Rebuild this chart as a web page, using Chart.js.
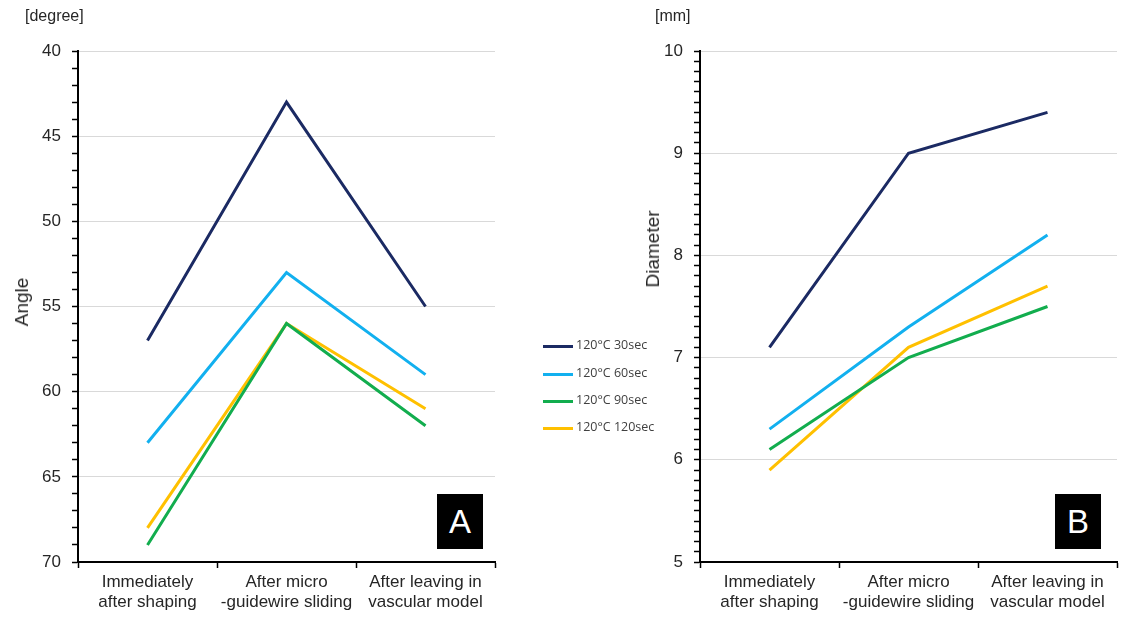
<!DOCTYPE html>
<html>
<head>
<meta charset="utf-8">
<script src="https://cdn.jsdelivr.net/npm/chart.js@4/dist/chart.umd.min.js"></script>
<style>
  body { margin: 0; background: #fff; font-family: "Liberation Sans", Arial, sans-serif; }
  #wrap { position: relative; width: 1133px; height: 620px; overflow: hidden; }
  .cv { position: absolute; top: 0; }
  .txt { position: absolute; color: #262626; white-space: nowrap; }
  .rot { position: absolute; transform: translate(-50%, -50%) rotate(-90deg); font-size: 19px; color: #262626; white-space: nowrap; }
  .panel { position: absolute; background: #000; color: #fff; font-size: 33px; text-align: center; width: 46px; height: 55px; line-height: 55px; top: 494px; }
  #legend { position: absolute; left: 543px; top: 0; font-family: "Open Sans", "Noto Sans", sans-serif; font-size: 12.5px; color: #404040; }
  .lg { position: absolute; left: 0; height: 14px; white-space: nowrap; }
  .lg i { position: absolute; left: 0; top: 6px; width: 30px; height: 3px; }
  .lg span { position: absolute; left: 33px; top: -3px; }
</style>
</head>
<body>
<div id="wrap">
  <canvas id="angleChart" class="cv" style="left:0"></canvas>
  <canvas id="diamChart" class="cv" style="left:590px"></canvas>
  <div class="txt" style="left:25px;top:7px;font-size:16px">[degree]</div>
  <div class="txt" style="left:655px;top:7px;font-size:16px">[mm]</div>
  <div class="rot" style="left:22px;top:302px">Angle</div>
  <div class="rot" style="left:653px;top:249px">Diameter</div>
  <div class="panel" style="left:437px">A</div>
  <div class="panel" style="left:1055px">B</div>
  <div id="legend"></div>
</div>
<script>
// --- data ---
const categories = [
    ["Immediately", "after shaping"],
    ["After micro", "-guidewire sliding"],
    ["After leaving in", "vascular model"]
];
const seriesNames = ["120°C 30sec", "120°C 60sec", "120°C 90sec", "120°C 120sec"];
const seriesColors = ["#1b2a63", "#12b0ef", "#12ad4e", "#ffc000"];

// panel A: angle [degree]
const angle30 = [57, 43, 55];
const angle60 = [63, 53, 59];
const angle90 = [69, 56, 62];
const angle120 = [68, 56, 61];

// panel B: diameter [mm]
const diam30 = [7.1, 9.0, 9.4];
const diam60 = [6.3, 7.3, 8.2];
const diam90 = [6.1, 7.0, 7.5];
const diam120 = [5.9, 7.1, 7.7];

Chart.defaults.font.family = '"Liberation Sans", Arial, sans-serif';
Chart.defaults.color = "#262626";

function isMajor(v, step) {
    const q = v / step;
    return Math.abs(q - Math.round(q)) < 1e-6;
}

function makeChart(id, w, axisW, padRight, seriesData, yOpts) {
    const canvas = document.getElementById(id);
    canvas.width = w;
    canvas.height = 620;
    canvas.style.width = w + "px";
    canvas.style.height = "620px";

    return new Chart(canvas.getContext("2d"), {
        type: "line",
        data: {
            labels: categories,
            datasets: seriesData.map((d, i) => ({
                label: seriesNames[i],
                data: d,
                borderColor: seriesColors[i],
                backgroundColor: seriesColors[i],
                borderWidth: 3,
                pointRadius: 0,
                tension: 0
            }))
        },
        options: {
            responsive: false,
            animation: false,
            layout: { padding: { top: 51, right: padRight, left: 0, bottom: 0 } },
            plugins: { legend: { display: false }, tooltip: { enabled: false } },
            scales: {
                x: {
                    offset: true,
                    grid: { offset: true, drawOnChartArea: false, tickColor: "#000", tickLength: 6, tickWidth: 1.5 },
                    border: { color: "#000", width: 2 },
                    ticks: { font: { size: 17 }, padding: 4, maxRotation: 0, autoSkip: false },
                    afterFit: s => { s.height = 58; }
                },
                y: {
                    reverse: yOpts.reverse,
                    min: yOpts.min,
                    max: yOpts.max,
                    grid: {
                        color: c => (c.tick && isMajor(c.tick.value, yOpts.major)) ? "#d9d9d9" : "rgba(0,0,0,0)",
                        tickColor: "#000",
                        tickLength: 6,
                        tickWidth: 1.5,
                        lineWidth: 1
                    },
                    border: { color: "#000", width: 2 },
                    ticks: {
                        stepSize: yOpts.minor,
                        maxTicksLimit: 200,
                        autoSkip: false,
                        padding: 11,
                        font: { size: 17 },
                        callback: v => isMajor(v, yOpts.major) ? Math.round(v) : ""
                    },
                    afterFit: s => { s.width = axisW; }
                }
            }
        }
    });
}

makeChart("angleChart", 540, 78, 45, [angle30, angle60, angle90, angle120],
    { reverse: true, min: 40, max: 70, major: 5, minor: 1 });
makeChart("diamChart", 543, 110, 16, [diam30, diam60, diam90, diam120],
    { reverse: false, min: 5, max: 10, major: 1, minor: 0.1 });

// legend in the middle
const legend = document.getElementById("legend");
const legendY = [339, 367, 394, 421];
seriesNames.forEach((name, i) => {
    const row = document.createElement("div");
    row.className = "lg";
    row.style.top = legendY[i] + "px";
    row.innerHTML = '<i style="background:' + seriesColors[i] + '"></i><span>' + name + '</span>';
    legend.appendChild(row);
});
</script>
</body>
</html>
